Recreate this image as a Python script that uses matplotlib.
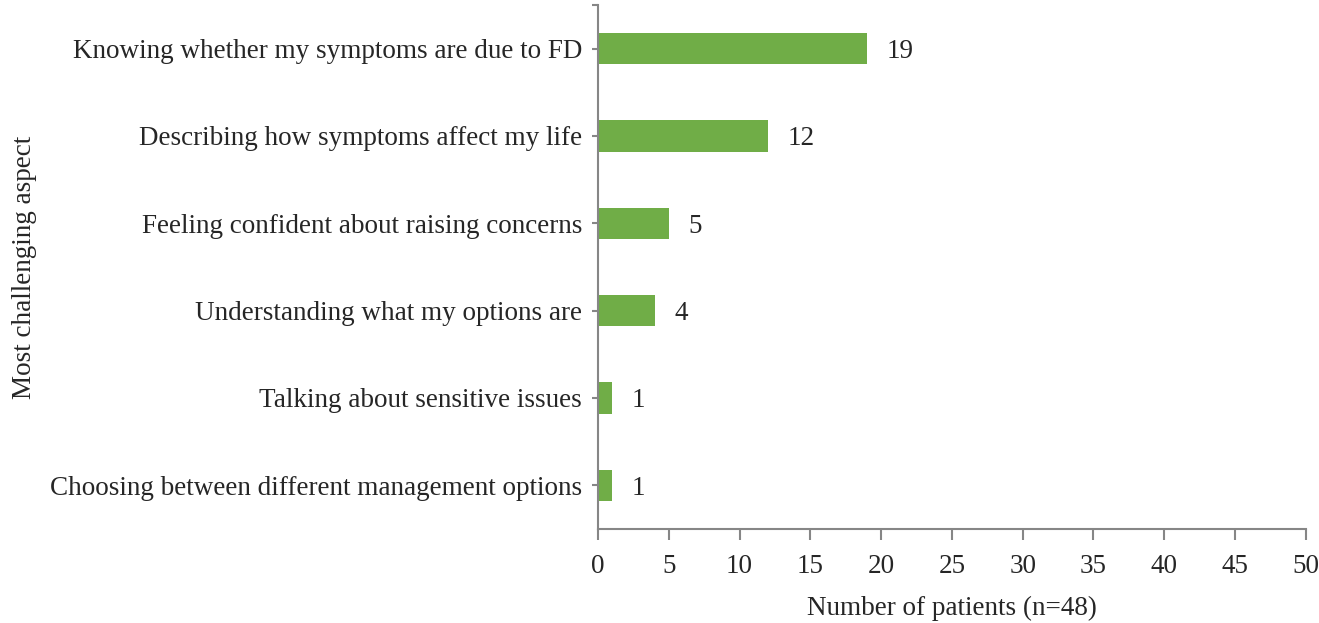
import matplotlib
matplotlib.use("Agg")
import matplotlib.pyplot as plt

# datos (de arriba hacia abajo)
categorias = [
    "Knowing whether my symptoms are due to FD",
    "Describing how symptoms affect my life",
    "Feeling confident about raising concerns",
    "Understanding what my options are",
    "Talking about sensitive issues",
    "Choosing between different management options",
]
pacientes = [19, 12, 5, 4, 1, 1]
ticks_x = list(range(0, 51, 5))

verde = "#70AD47"
gris = "#868686"
texto = "#262626"
tam = 19.5

plt.rcParams["font.family"] = ["Liberation Serif", "DejaVu Serif"]

fig = plt.figure(figsize=(13.19, 6.23), dpi=100)
ax = fig.add_axes([0.4534, 0.1509, 0.5366, 0.8411])

pos = list(range(len(categorias)))[::-1]
ax.barh(pos, pacientes, height=0.36, color=verde, zorder=2)

for y, v in zip(pos, pacientes):
    ax.annotate(str(v), (v, y), xytext=(14, 0), textcoords="offset points",
                va="center_baseline", ha="left", fontsize=tam, color=texto)

ax.set_xlim(0, 50)
ax.set_ylim(-0.5, len(categorias) - 0.5)
ax.set_xticks(ticks_x)
ax.set_yticks(pos)
ax.set_yticklabels(categorias)
ax.set_yticks([len(categorias) - 0.5], minor=True)

for lado in ["top", "right"]:
    ax.spines[lado].set_visible(False)
for lado in ["left", "bottom"]:
    ax.spines[lado].set_color(gris)
    ax.spines[lado].set_linewidth(1.5)

ax.tick_params(axis="x", direction="out", length=8, width=1.5, color=gris,
               labelsize=tam, labelcolor=texto, pad=10)
ax.tick_params(axis="y", which="both", direction="out", length=4.5, width=1.5,
               color=gris, labelsize=tam, labelcolor=texto, pad=7)

ax.set_xlabel("Number of patients (n=48)", fontsize=tam, color=texto, labelpad=12)
ax.set_ylabel("Most challenging aspect", fontsize=tam, color=texto)
ax.yaxis.set_label_coords(-0.792, 0.5)

fig.savefig("out.png", dpi=100)
